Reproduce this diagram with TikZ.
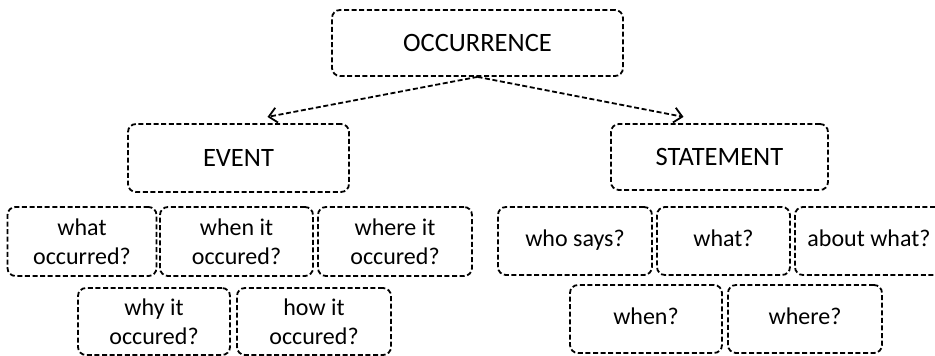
\documentclass[tikz,border=0pt]{standalone}
\usepackage{fontspec}
\setmainfont{Carlito}
\usetikzlibrary{positioning,arrows.meta}

\begin{document}
\begin{tikzpicture}[>={Straight Barb[length=8pt,width=15pt]},node distance=80pt,line width=1.8pt,
  main node/.style={draw,dash pattern=on 5pt off 2.6pt,rounded corners=8pt,align=center,inner sep=0pt,minimum width=153pt,minimum height=68pt,font=\fontsize{24}{29}\selectfont},
  line node/.style={main node,text height=17pt,text depth=6pt},
  head node/.style={main node,font=\fontsize{26.5}{31}\selectfont}]
            \useasboundingbox (0pt,0pt) rectangle (935pt,-356pt);

            \node[head node, minimum width=291pt, minimum height=66pt] (1) at (477.5pt,-43pt) {OCCURRENCE};
            \node[head node, minimum width=221pt] (2) [below of = 1, xshift = -239pt, yshift = -35pt]{EVENT};
            \node[head node, minimum width=217pt, minimum height=66pt] (3) [below of = 1, xshift = 242pt, yshift = -34pt]{STATEMENT};

            \node[main node, minimum width=149pt, minimum height=69pt] (4) [below of = 2, xshift = -156.5pt, yshift = -3.5pt]{what\\occurred?};
            \node[main node, minimum height=69pt] (5) [right of = 4, xshift = 74.5pt]{when it\\occured?};
            \node[main node, minimum width=154pt, minimum height=69pt] (6) [right of = 5, xshift = 78.5pt]{where it\\occured?};
            \node[main node, minimum width=152pt, minimum height=67pt] (7) [below of = 4, xshift = 72pt]{why it\\occured?};
            \node[main node, minimum width=154pt, minimum height=67pt] (8) [right of = 7, xshift = 80pt]{how it\\occured?};

            \node[line node, minimum width=154pt] (9) [below of = 3, xshift = -144.5pt, yshift = -4pt]{who says?};
            \node[line node, minimum width=133pt] (10) [right of = 9, xshift = 68.5pt]{what?};
            \node[line node, minimum width=148pt] (11) [right of = 10, xshift = 65.5pt]{about what?};
            \node[line node, minimum width=152pt] (12) [below of = 9, xshift = 71pt, yshift = 2pt]{when?};
            \node[line node, minimum width=154pt] (13) [right of = 12, xshift = 79pt]{where?};

            \path[->,dash pattern=on 5pt off 2.6pt,shorten >=1pt]
                (1.south) edge ([xshift=28pt,yshift=6pt]2.north)
                (1.south) edge ([xshift=-35pt,yshift=6pt]3.north)
                ;
        \end{tikzpicture}
\end{document}
